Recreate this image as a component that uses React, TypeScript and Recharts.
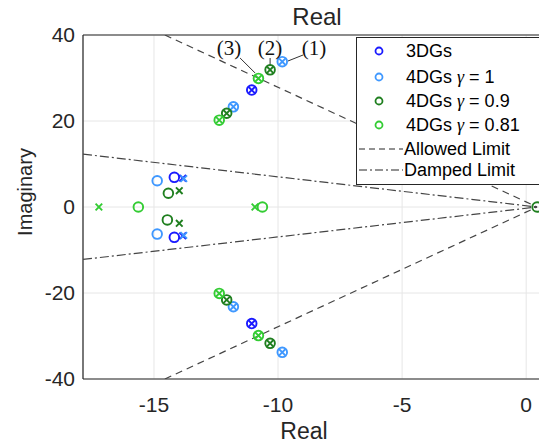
import React from "react";
import { ScatterChart, Scatter, XAxis, YAxis, CartesianGrid, ReferenceLine, ReferenceDot } from "recharts";

const xTicks = [-15, -10, -5, 0];
const yTicks = [-40, -20, 0, 20, 40];

// o = zeros, x = poles (pzmap style)
const dg3Zeros = [
  { x: -11.06, y: 27.2 }, { x: -11.06, y: -27.1 },
  { x: -14.18, y: 6.9 }, { x: -14.18, y: -7.05 },
];
const dg3Poles = [
  { x: -11.06, y: 27.2 }, { x: -11.06, y: -27.1 },
  { x: -13.84, y: 6.7 }, { x: -13.84, y: -6.7 },
];
const g1Zeros = [
  { x: -9.83, y: 33.8 }, { x: -11.8, y: 23.3 }, { x: -9.83, y: -33.8 }, { x: -11.8, y: -23.2 },
  { x: -14.87, y: 6.1 }, { x: -14.87, y: -6.3 },
];
const g1Poles = [
  { x: -9.83, y: 33.8 }, { x: -11.8, y: 23.3 }, { x: -9.83, y: -33.8 }, { x: -11.8, y: -23.2 },
  { x: -13.8, y: 6.6 }, { x: -13.8, y: -6.6 },
];
const g09Zeros = [
  { x: -10.32, y: 31.9 }, { x: -12.07, y: 21.8 }, { x: -10.32, y: -31.7 }, { x: -12.07, y: -21.6 },
  { x: -14.42, y: 3.2 }, { x: -14.46, y: -3.0 }, { x: 0.44, y: 0 },
];
const g09Poles = [
  { x: -10.32, y: 31.9 }, { x: -12.07, y: 21.8 }, { x: -10.32, y: -31.7 }, { x: -12.07, y: -21.6 },
  { x: -13.98, y: 3.8 }, { x: -13.98, y: -3.8 },
];
const g081Zeros = [
  { x: -10.79, y: 29.9 }, { x: -12.37, y: 20.2 }, { x: -10.79, y: -29.9 }, { x: -12.37, y: -20.1 },
  { x: -15.63, y: 0 }, { x: -10.63, y: 0 },
];
const g081Poles = [
  { x: -10.79, y: 29.9 }, { x: -12.37, y: 20.2 }, { x: -10.79, y: -29.9 }, { x: -12.37, y: -20.1 },
  { x: -17.22, y: 0 }, { x: -10.93, y: 0 },
];

const allowedUpper = [{ x: -14.56, y: 40 }, { x: 0.44, y: 0 }];
const allowedLower = [{ x: -14.56, y: -40 }, { x: 0.44, y: 0 }];
const dampedUpper = [{ x: -17.86, y: 12.3 }, { x: 0.44, y: 0 }];
const dampedLower = [{ x: -17.86, y: -12.2 }, { x: 0.44, y: 0 }];

const annotLabels = [
  { x: -11.98, y: 37, text: "(3)" },
  { x: -10.32, y: 37, text: "(2)" },
  { x: -8.55, y: 37, text: "(1)" },
];
const annotLeaders = [
  [{ x: -11.53, y: 34.65 }, { x: -10.93, y: 31.2 }],
  [{ x: -10.32, y: 34.65 }, { x: -10.32, y: 33.0 }],
  [{ x: -8.99, y: 35.35 }, { x: -9.6, y: 33.95 }],
];

const BLUE = "#1a1aff";
const LBLUE = "#3f98ff";
const DGREEN = "#1f7f1f";
const LGREEN = "#33cc33";
const AX = "#262626";
const FONT = "'Liberation Sans', Arial, sans-serif";

const ring = (color: string) => (p: any) => (
  <circle cx={p.cx} cy={p.cy} r={4.8} fill="none" stroke={color} strokeWidth={1.9} />
);
const cross = (color: string) => (p: any) => {
  const s = 3.3;
  return (
    <path
      d={`M${p.cx - s},${p.cy - s}L${p.cx + s},${p.cy + s}M${p.cx - s},${p.cy + s}L${p.cx + s},${p.cy - s}`}
      stroke={color}
      strokeWidth={1.9}
      fill="none"
    />
  );
};
const none = () => <g />;

const legendRows = [
  { name: "3DGs", color: BLUE, gamma: "" },
  { name: "4DGs ", color: LBLUE, gamma: " = 1" },
  { name: "4DGs ", color: DGREEN, gamma: " = 0.9" },
  { name: "4DGs ", color: LGREEN, gamma: " = 0.81" },
];

function LegendBox() {
  const rowY = [13, 39, 63, 87];
  return (
    <div
      style={{
        position: "absolute",
        left: 356,
        top: 37,
        width: 200,
        height: 146,
        background: "#fff",
        border: `1px solid ${AX}`,
        fontFamily: FONT,
        fontSize: 18,
        color: "#000",
      }}
    >
      {legendRows.map((r, i) => (
        <div key={r.name + i} style={{ position: "absolute", top: rowY[i] - 11, left: 0, height: 22, lineHeight: "22px", whiteSpace: "nowrap" }}>
          <svg width={46} height={22} style={{ position: "absolute", left: 0, top: 0 }}>
            <circle cx={22} cy={11} r={3.5} fill="none" stroke={r.color} strokeWidth={1.8} />
          </svg>
          <span style={{ position: "absolute", left: 49 }}>
            {r.name}
            {r.gamma && <span style={{ fontFamily: "'Liberation Serif', 'Times New Roman', serif", fontStyle: "italic" }}>γ</span>}
            {r.gamma}
          </span>
        </div>
      ))}
      <div style={{ position: "absolute", top: 100, left: 0, height: 22, lineHeight: "22px", whiteSpace: "nowrap" }}>
        <svg width={46} height={22} style={{ position: "absolute", left: 0, top: 0 }}>
          <line x1={2} y1={11} x2={46} y2={11} stroke={AX} strokeWidth={1.2} strokeDasharray="6 4" />
        </svg>
        <span style={{ position: "absolute", left: 47 }}>Allowed Limit</span>
      </div>
      <div style={{ position: "absolute", top: 121, left: 0, height: 22, lineHeight: "22px", whiteSpace: "nowrap" }}>
        <svg width={46} height={22} style={{ position: "absolute", left: 0, top: 0 }}>
          <line x1={2} y1={11} x2={46} y2={11} stroke={AX} strokeWidth={1.2} strokeDasharray="8 3 2 3" />
        </svg>
        <span style={{ position: "absolute", left: 47 }}>Damped Limit</span>
      </div>
    </div>
  );
}

export default function App() {
  const tick = { fontSize: 21, fill: AX, fontFamily: FONT };
  return (
    <div style={{ position: "absolute", left: 0, top: 0, width: 539, height: 446, overflow: "hidden", background: "#fff" }}>
      <ScatterChart width={551} height={446} margin={{ top: 35, right: 0, bottom: 0, left: 0 }}>
        <CartesianGrid stroke="#e6e6e6" strokeWidth={1} />
        <XAxis
          dataKey="x"
          type="number"
          domain={[-17.86, 1]}
          ticks={xTicks}
          allowDataOverflow
          height={67}
          tickLine={false}
          tickSize={6}
          tickMargin={12}
          axisLine={{ stroke: AX, strokeWidth: 1.2 }}
          tick={tick}
        />
        <YAxis
          dataKey="y"
          type="number"
          domain={[-40, 40]}
          ticks={yTicks}
          allowDataOverflow
          width={83}
          tickLine={false}
          tickSize={6}
          tickMargin={2}
          axisLine={{ stroke: AX, strokeWidth: 1.2 }}
          tick={tick}
        />
        <ReferenceLine y={40} stroke={AX} strokeWidth={1.2} />

        <Scatter data={allowedUpper} line={{ stroke: "#444", strokeWidth: 1.2, strokeDasharray: "7 5" }} shape={none} isAnimationActive={false} legendType="none" />
        <Scatter data={allowedLower} line={{ stroke: "#444", strokeWidth: 1.2, strokeDasharray: "7 5" }} shape={none} isAnimationActive={false} legendType="none" />
        <Scatter data={dampedUpper} line={{ stroke: "#444", strokeWidth: 1.2, strokeDasharray: "9 3 2 3" }} shape={none} isAnimationActive={false} legendType="none" />
        <Scatter data={dampedLower} line={{ stroke: "#444", strokeWidth: 1.2, strokeDasharray: "9 3 2 3" }} shape={none} isAnimationActive={false} legendType="none" />

        <Scatter data={dg3Zeros} shape={ring(BLUE)} isAnimationActive={false} legendType="none" />
        <Scatter data={dg3Poles} shape={cross(BLUE)} isAnimationActive={false} legendType="none" />
        <Scatter data={g1Zeros} shape={ring(LBLUE)} isAnimationActive={false} legendType="none" />
        <Scatter data={g1Poles} shape={cross(LBLUE)} isAnimationActive={false} legendType="none" />
        <Scatter data={g09Zeros} shape={ring(DGREEN)} isAnimationActive={false} legendType="none" />
        <Scatter data={g09Poles} shape={cross(DGREEN)} isAnimationActive={false} legendType="none" />
        <Scatter data={g081Zeros} shape={ring(LGREEN)} isAnimationActive={false} legendType="none" />
        <Scatter data={g081Poles} shape={cross(LGREEN)} isAnimationActive={false} legendType="none" />

        {annotLeaders.map((seg, i) => (
          <ReferenceLine key={"l" + i} segment={seg} stroke="#333" strokeWidth={1} ifOverflow="visible" />
        ))}
        {annotLabels.map((a) => (
          <ReferenceDot
            key={a.text}
            x={a.x}
            y={a.y}
            r={0}
            stroke="none"
            fill="none"
            ifOverflow="visible"
            label={{ value: a.text, position: "center", fontSize: 21, fill: "#111", fontFamily: "'Liberation Serif', 'Times New Roman', serif" }}
          />
        ))}
      </ScatterChart>
      <LegendBox />
      <div style={{ position: "absolute", left: 267, top: 4, width: 100, textAlign: "center", fontFamily: FONT, fontSize: 24, color: AX, lineHeight: "26px" }}>Real</div>
      <div style={{ position: "absolute", left: 254, top: 420, width: 100, textAlign: "center", fontFamily: FONT, fontSize: 23, color: AX, lineHeight: "22px" }}>Real</div>
      <div
        style={{
          position: "absolute",
          left: 25 - 60,
          top: 192 - 12,
          width: 120,
          textAlign: "center",
          fontFamily: FONT,
          fontSize: 20,
          color: AX,
          lineHeight: "24px",
          transform: "rotate(-90deg)",
        }}
      >
        Imaginary
      </div>
    </div>
  );
}
